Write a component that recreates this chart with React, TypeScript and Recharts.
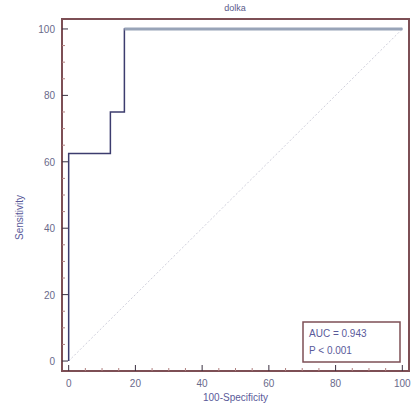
import React from 'react';
import { LineChart, Line, XAxis, YAxis, ReferenceArea, Label, Customized } from 'recharts';

const fpr = [0, 0, 12.5, 16.7, 100];
const tpr = [0, 62.5, 75, 100, 100];
const diagX = [0, 100];
const diagY = [0, 100];
const tickValues = [0, 5, 10, 15, 20, 25, 30, 35, 40, 45, 50, 55, 60, 65, 70, 75, 80, 85, 90, 95, 100];
const title = 'dolka';
const aucText = 'AUC = 0.943';
const pText = 'P < 0.001';

const rocData = fpr.map((x, i) => ({ x, roc: tpr[i] }));
const diagData = diagX.map((x, i) => ({ x, diag: diagY[i] }));
const topData = [{ x: fpr[3], top: 100 }, { x: 100, top: 100 }];

const font = '"Liberation Sans", Arial, sans-serif';
const frame = '#7d4f55';
const labelColor = '#5a5a9a';

const renderXTick = ({ x, y, payload }: any) => {
    const major = payload.value % 20 === 0;
    return (
        <g key={`xt-${payload.value}`}>
            <line x1={x} x2={x} y1={y} y2={y - (major ? 6 : 3)} stroke={major ? '#3a3040' : '#b08080'} strokeWidth={1} />
            {major && (
                <text x={x} y={y + 16} textAnchor="middle" fontSize={10} fill="#6a6a8a" fontFamily={font}>{payload.value}</text>
            )}
        </g>
    );
};

const renderYTick = ({ x, y, payload }: any) => {
    const major = payload.value % 20 === 0;
    return (
        <g key={`yt-${payload.value}`}>
            <line x1={x} x2={x + (major ? 6 : 3)} y1={y} y2={y} stroke={major ? '#3a3040' : '#b08080'} strokeWidth={1} />
            {major && (
                <text x={x - 7} y={y + 4} textAnchor="end" fontSize={10} fill="#6a6a8a" fontFamily={font}>{payload.value}</text>
            )}
        </g>
    );
};

function Extras() {
    return (
        <g fontFamily={font}>
            <text x={235} y={11} textAnchor="middle" fontSize={9} fill="#5a5a8a">{title}</text>
            <rect x={303} y={322} width={97} height={40} fill="#fff" stroke={frame} strokeWidth={1.5} />
            <text x={309} y={337} fontSize={10} fill="#5a5a9a">{aucText}</text>
            <text x={309} y={354} fontSize={10} fill="#5a5a9a">{pText}</text>
        </g>
    );
}

export default function App() {
    return (
        <div style={{ position: 'absolute', left: 0, top: 0, width: 412, height: 419, background: '#fff' }}>
            <LineChart width={412} height={419} margin={{ top: 19, right: 3, bottom: 47, left: 61 }}>
                <XAxis
                    type="number"
                    dataKey="x"
                    domain={[-2, 102]}
                    ticks={tickValues}
                    tick={renderXTick}
                    tickLine={false}
                    tickSize={0}
                    tickMargin={0}
                    height={1}
                    axisLine={false}
                    interval={0}
                    allowDataOverflow
                >
                    <Label value="100-Specificity" position="bottom" offset={22} fontSize={10} fill={labelColor} fontFamily={font} />
                </XAxis>
                <YAxis
                    type="number"
                    domain={[-3, 103]}
                    ticks={tickValues}
                    tick={renderYTick}
                    tickLine={false}
                    tickSize={0}
                    tickMargin={0}
                    width={1}
                    axisLine={false}
                    interval={0}
                    allowDataOverflow
                >
                    <Label value="Sensitivity" angle={-90} position="left" offset={42} fontSize={10} fill={labelColor} fontFamily={font} />
                </YAxis>
                <ReferenceArea x1={-2} x2={102} y1={-3} y2={103} fill="none" stroke={frame} strokeWidth={2} ifOverflow="extendDomain" />
                <Line data={diagData} dataKey="diag" stroke="#d0d0dc" strokeWidth={1} strokeDasharray="2 2" dot={false} isAnimationActive={false} />
                <Line data={rocData} dataKey="roc" type="stepAfter" stroke="#3c3c6e" strokeWidth={1.5} dot={false} isAnimationActive={false} />
                <Line data={topData} dataKey="top" stroke="#98a4b8" strokeWidth={3} dot={false} isAnimationActive={false} />
                <Customized component={<Extras />} />
            </LineChart>
        </div>
    );
}
